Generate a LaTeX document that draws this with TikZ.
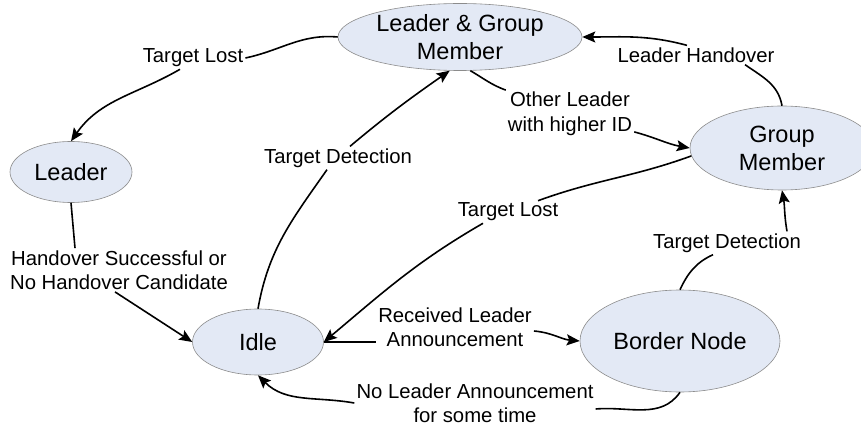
\documentclass[tikz,border=0pt]{standalone}
\usepackage{fontspec}
\setmainfont{Liberation Sans}
\usetikzlibrary{shapes.geometric,arrows.meta}
\definecolor{statefill}{RGB}{227,233,245}
\definecolor{stateline}{RGB}{140,140,140}
\begin{document}
\begin{tikzpicture}[x=1pt,y=-1pt,
  state/.style={ellipse,draw=stateline,line width=0.6pt,fill=statefill,inner sep=0pt,
    align=center,font=\fontsize{23.5}{28}\selectfont},
  lbl/.style={inner sep=2pt,align=center,font=\fontsize{20.3}{24.5}\selectfont},
  edge/.style={line width=1.6pt,black},
  arrow/.style={edge,-{Stealth[length=13pt,width=11pt,inset=2.5pt]}}]
\useasboundingbox (0,0) rectangle (861,430);

% states
\node[state,minimum width=244pt,minimum height=67pt] (lgm) at (460,37) {Leader \& Group\\Member};
\node[state,minimum width=122pt,minimum height=61pt] (leader) at (71,172) {Leader};
\node[state,minimum width=131pt,minimum height=66pt] (idle) at (258,342) {Idle};
\node[state,minimum width=200pt,minimum height=102pt] (bn) at (680,341) {Border Node};
\node[state,minimum width=184pt,minimum height=84pt] (gm) at (782,148) {Group\\Member};

% transition labels
\node[lbl] (tl1) at (193,58) {Target Lost};
\node[lbl] (hs) at (119,270) {Handover Successful or\\No Handover Candidate};
\node[lbl] (td1) at (338,158) {Target Detection};
\node[lbl] (ol) at (570,114) {Other Leader\\with higher ID};
\node[lbl] (lh) at (696,55) {Leader Handover};
\node[lbl] (tl2) at (508,212) {Target Lost};
\node[lbl] (td2) at (727,243) {Target Detection};
\node[lbl] (ra) at (455,327) {Received Leader\\Announcement};
\node[lbl] (nl) at (475,403) {No Leader Announcement\\for some time};

% transitions
\draw[edge] (lgm.west) to[out=175,in=12] (tl1.east);
\draw[arrow] ([xshift=-13pt]tl1.south) to[out=210,in=55] (leader.north);

\draw[edge] (leader.south) to[out=-85,in=95] ([xshift=-44pt]hs.north);
\draw[arrow] ([xshift=-4pt]hs.south) -- (idle.west);

\draw[edge] (idle.north) to[out=80,in=235] ([xshift=-11pt]td1.south);
\draw[arrow] ([xshift=12pt]td1.north) to[out=40,in=215] (lgm.253);

\draw[edge] (lgm.287) to[out=-30,in=160] (ol.north west);
\draw[arrow] ([yshift=6pt]ol.south east) to[out=-15,in=170] (gm.west);

\draw[edge] (gm.north) to[out=100,in=-35] ([xshift=49pt]lh.south);
\draw[arrow] ([xshift=-9pt]lh.north) to[out=165,in=0] (lgm.east);

\draw[edge] (gm.185) to[out=200,in=20] ([xshift=30pt]tl2.north);
\draw[arrow] ([xshift=-25pt]tl2.south) to[out=210,in=40] (idle.east);

\draw[edge] (bn.north) to[out=65,in=205] ([xshift=-14pt]td2.south);
\draw[arrow] ([xshift=60pt]td2.north) to[out=100,in=-80] (gm.south);

\draw[edge] (idle.east) -- (idle.east -| ra.west);
\draw[arrow] ([yshift=-4pt]ra.east) to[out=-5,in=175] (bn.west);

\draw[edge] (bn.south) to[out=235,in=5] ([yshift=-6pt]nl.east);
\draw[arrow] (nl.west) to[out=170,in=-45] (idle.south);
\end{tikzpicture}
\end{document}
